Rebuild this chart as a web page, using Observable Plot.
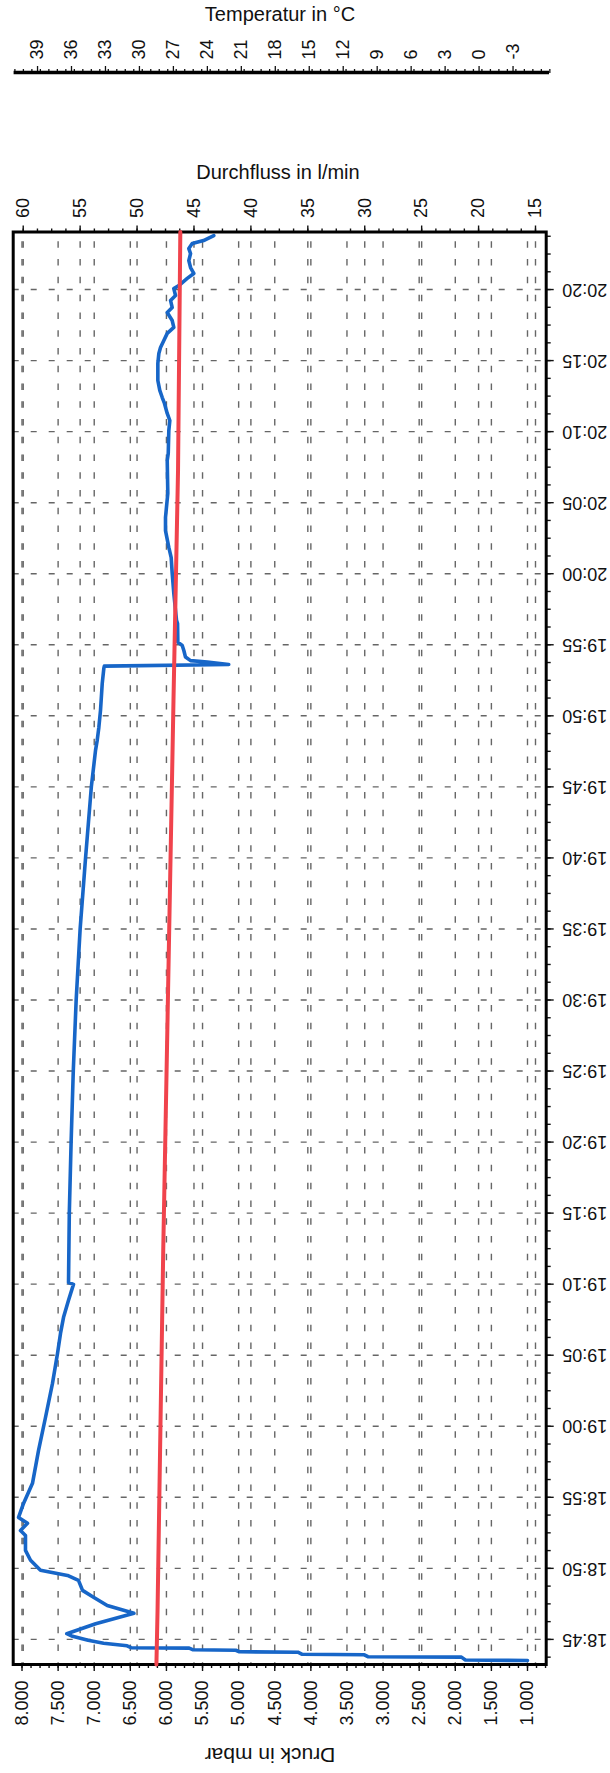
<!DOCTYPE html>
<html><head><meta charset="utf-8">
<script src="https://cdn.jsdelivr.net/npm/d3@7"></script>
<script src="https://cdn.jsdelivr.net/npm/@observablehq/plot@0.6"></script>
<style>
body{margin:0;background:#fff;}
#wrap{position:relative;width:610px;height:1773px;overflow:hidden;background:#fff;font-family:Arial,"Liberation Sans",sans-serif;color:#111;}
#wrap svg{position:absolute;left:0;top:0;overflow:visible;}
.title{position:absolute;font-size:20px;white-space:nowrap;transform:translate(-50%,-50%);line-height:1;}
</style></head><body><div id="wrap"></div>
<script>
// ---- data ----
const blueTime = ["18:43:31","18:43:33","18:43:45","18:43:47","18:43:55","18:43:57","18:44:06","18:44:08","18:44:14","18:44:16","18:44:23","18:44:25","18:44:33","18:44:44","18:44:56","18:45:13","18:45:24","18:46:06","18:46:50","18:47:23","18:47:58","18:48:27","18:49:09","18:49:30","18:49:52","18:50:34","18:51:16","18:52:19","18:52:40","18:53:10","18:53:35","18:54:34","18:55:59","18:58:18","19:00:37","19:03:01","19:05:08","19:06:32","19:07:40","19:08:52","19:09:59","19:10:07","19:15:00","19:20:00","19:25:00","19:30:00","19:35:00","19:40:00","19:45:00","19:47:34","19:48:16","19:49:11","19:50:23","19:52:17","19:53:20","19:53:30","19:53:37","19:53:47","19:53:53","19:54:08","19:54:36","19:54:57","19:55:11","19:56:30","19:56:43","19:58:37","20:00:01","20:01:08","20:01:51","20:03:02","20:03:58","20:05:39","20:07:58","20:08:28","20:10:05","20:10:47","20:11:17","20:11:59","20:12:24","20:12:54","20:13:36","20:14:48","20:15:30","20:15:55","20:16:25","20:16:55","20:17:20","20:17:49","20:18:23","20:18:44","20:19:14","20:19:35","20:20:04","20:20:17","20:20:47","20:21:08","20:21:33","20:22:02","20:22:32","20:22:53","20:23:14","20:23:27","20:23:48"];
const blueDruck = [1000,1860,1915,3210,3260,4120,4180,4990,5040,5630,5685,6490,6545,6870,7085,7300,7380,6980,6450,6820,7010,7162,7218,7370,7744,7882,7952,7952,8021,7924,8048,7979,7855,7771,7675,7578,7508,7467,7425,7356,7287,7356,7345,7320,7290,7250,7195,7120,7040,6982,6959,6936,6913,6889,6867,6860,5137,5435,5666,5736,5759,5781,5842,5846,5860,5898,5920,5934,5967,6013,6013,5981,5989,5975,5967,5953,5989,6027,6058,6092,6119,6119,6105,6082,6036,5989,5898,5920,5989,5920,5943,5874,5898,5828,5712,5621,5666,5690,5666,5690,5643,5486,5344];
const redTime = ["18:43:14","18:47:02","19:12:24","19:51:06","20:07:18","20:24:03"];
const redFlow = [48.3,48.2,47.7,46.8,46.4,46.2];

const timeTicks = ["18:45","18:50","18:55","19:00","19:05","19:10","19:15","19:20","19:25","19:30","19:35","19:40","19:45","19:50","19:55","20:00","20:05","20:10","20:15","20:20"];
const druckTicks = [8000,7500,7000,6500,6000,5500,5000,4500,4000,3500,3000,2500,2000,1500,1000];
const flowTicks = [60,55,50,45,40,35,30,25,20,15];
const tempTicks = [39,36,33,30,27,24,21,18,15,12,9,6,3,0,-3];
const timeDomain = ["18:43:14","20:24:03"];
const druckDomain = [8122,741];
const flowDomain = [60.88,14.06];
const tempDomain = [41.07,-6.22];

// ---- helpers ----
const T = s => new Date("2000-01-01T" + (s.length === 5 ? s + ":00" : s) + "Z");
const blue = blueTime.map((t,i) => ({t: T(t), v: blueDruck[i]}));
const red = redTime.map((t,i) => ({t: T(t), f: redFlow[i]}));
const tickDates = timeTicks.map(T);
const minorTime = d3.range(T("18:43:45").getTime(), T("20:24:00").getTime(), 75000).map(ms => new Date(ms));
const minorDruck = d3.range(8000, 700, -125);
const minorFlow = d3.range(60, 14, -1.25);
const minorTemp = d3.range(41, -6.3, -0.75).map(v => +(v).toFixed(2));
const fmtDruck = v => d3.format(",")(v).replace(/,/g, ".");

const W = 610, H = 1773, mL = 12.7, mR = 64.3, mT = 231.5, mB = 109;
const FONT = 'Arial, "Liberation Sans", sans-serif';
const baseStyle = {fontFamily: FONT, fontSize: "18px", background: "transparent", color: "#111", overflow: "visible"};
const yOpt = {type: "utc", domain: timeDomain.map(T), axis: null, label: null};
const wrap = document.getElementById("wrap");

// layer 1: flow grid + flow axis (top)
const flowAxis = Plot.plot({
  width: W, height: H, marginLeft: mL, marginRight: mR, marginTop: mT, marginBottom: mB,
  style: baseStyle,
  x: {domain: flowDomain, label: null},
  y: yOpt,
  marks: [
    Plot.gridX(flowTicks, {stroke: "#666", strokeOpacity: 1, strokeWidth: 1.4, strokeDasharray: "6.5,11.26", strokeDashoffset: -9.85}),
    Plot.axisX(minorFlow, {anchor: "top", tickSize: 4, strokeWidth: 1.4, tickFormat: () => "", label: null}),
    Plot.axisX(flowTicks, {anchor: "top", tickSize: 7, strokeWidth: 1.4, tickRotate: -90, tickPadding: 7, tickFormat: d => String(d), label: null})
  ]
});

// layer 2: main chart (Druck, time)
const main = Plot.plot({
  width: W, height: H, marginLeft: mL, marginRight: mR, marginTop: mT, marginBottom: mB,
  style: baseStyle,
  x: {domain: druckDomain, label: null},
  y: {type: "utc", domain: timeDomain.map(T), label: null},
  marks: [
    Plot.gridY(tickDates, {stroke: "#666", strokeOpacity: 1, strokeWidth: 1.4, strokeDasharray: "6,12"}),
    Plot.gridX(druckTicks, {stroke: "#666", strokeOpacity: 1, strokeWidth: 1.4, strokeDasharray: "6.5,11.26", strokeDashoffset: -9.85}),
    Plot.line(blue, {x: "v", y: "t", stroke: "#1766c8", strokeWidth: 3.6, strokeLinejoin: "round", strokeLinecap: "round"}),
    Plot.axisX(minorDruck, {anchor: "bottom", tickSize: 4, strokeWidth: 1.4, tickFormat: () => "", label: null}),
    Plot.axisX(druckTicks, {anchor: "bottom", tickSize: 7, strokeWidth: 1.4, tickRotate: -90, tickPadding: 9, tickFormat: fmtDruck, label: null}),
    Plot.axisY(minorTime, {anchor: "right", tickSize: 4, strokeWidth: 1.4, tickFormat: () => "", label: null}),
    Plot.axisY(tickDates, {anchor: "right", tickSize: 7, strokeWidth: 1.4, tickRotate: 180, textAnchor: "end", lineAnchor: "middle", tickPadding: 9, tickFormat: d3.utcFormat("%H:%M"), label: null}),
    Plot.frame({stroke: "#000", strokeWidth: 3})
  ]
});

// layer 3: red flow line
const redLayer = Plot.plot({
  width: W, height: H, marginLeft: mL, marginRight: mR, marginTop: mT, marginBottom: mB,
  style: baseStyle,
  x: {domain: flowDomain, axis: null, label: null},
  y: yOpt,
  marks: [
    Plot.line(red, {x: "f", y: "t", stroke: "#f0434c", strokeWidth: 4})
  ]
});

// temperature axis (separate scale on top)
const temp = Plot.plot({
  width: W, height: 100, marginLeft: 13.6, marginRight: 61, marginTop: 72, marginBottom: 28,
  style: baseStyle,
  x: {domain: tempDomain, label: null},
  y: {domain: [0, 1], axis: null, label: null},
  marks: [
    Plot.axisX(minorTemp, {anchor: "top", tickSize: 4, strokeWidth: 1.3, tickFormat: () => "", label: null}),
    Plot.axisX(tempTicks, {anchor: "top", tickSize: 7, strokeWidth: 1.3, tickRotate: -90, tickPadding: 6, tickFormat: d => String(d), label: null}),
    Plot.ruleY([1], {stroke: "#000", strokeWidth: 3.5})
  ]
});

wrap.append(flowAxis, main, redLayer, temp);

function addTitle(text, x, y, rot, size) {
  const d = document.createElement("div");
  d.className = "title";
  d.textContent = text;
  d.style.left = x + "px";
  d.style.top = y + "px";
  d.style.fontSize = size + "px";
  d.style.transform = "translate(-50%,-50%)" + (rot ? " rotate(" + rot + "deg)" : "");
  wrap.append(d);
}
addTitle("Temperatur in °C", 280, 14, 0, 20);
addTitle("Durchfluss in l/min", 278, 172, 0, 20);
addTitle("Druck in mbar", 270, 1755, 180, 21);
</script>
</body></html>
